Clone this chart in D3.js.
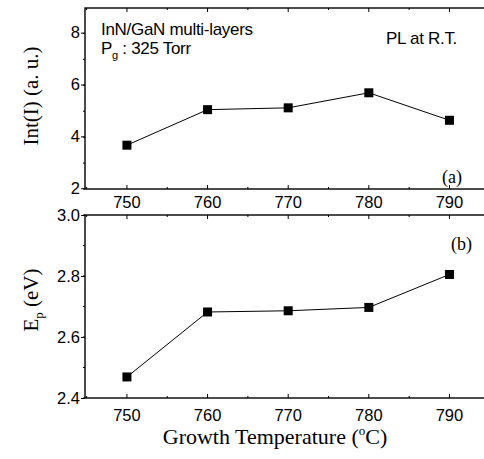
<!DOCTYPE html>
<html><head><meta charset="utf-8">
<script src="https://cdn.jsdelivr.net/npm/d3@7"></script>
<style>body{margin:0;background:#fff}svg{display:block}</style>
</head><body>
<svg id="c" width="484" height="459"></svg>
<script>
const temps = [750, 760, 770, 780, 790];
const intensity = [3.66, 5.03, 5.1, 5.68, 4.62];
const peakEnergy = [2.469, 2.682, 2.686, 2.697, 2.805];
const xTicks = [750, 760, 770, 780, 790];
const yTicksA = [2, 4, 6, 8];
const yTicksB = [2.4, 2.6, 2.8, 3.0];

const svg = d3.select("#c");
const sans = "Liberation Sans, Arial, sans-serif";
const serif = "Liberation Serif, Times New Roman, serif";
const L = 85, R = 500;
const x = d3.scaleLinear().domain([744.8, 795.4]).range([L, 493]);

function panel(yDom, yRange, ticks, fmt, data, minorStep, labOff) {
  const y = d3.scaleLinear().domain(yDom).range(yRange);
  const g = svg.append("g");
  g.append("rect").attr("x", L).attr("y", yRange[1]).attr("width", R - L)
    .attr("height", yRange[0] - yRange[1]).attr("fill", "none").attr("stroke", "#000").attr("stroke-width", 1.4);
  const ya = d3.axisLeft(y).tickValues(ticks).tickFormat(fmt).tickSize(4).tickPadding(1);
  const ag = g.append("g").attr("transform", `translate(${L},0)`).call(ya);
  ag.select(".domain").remove();
  ag.selectAll("text").attr("font-family", sans).attr("font-size", 16.5).attr("fill", "#000");
  const minors = d3.range(yDom[0], yDom[1] + 1e-9, minorStep);
  g.selectAll(".my").data(minors).join("line")
    .attr("x1", L - 2).attr("x2", L).attr("y1", d => y(d)).attr("y2", d => y(d)).attr("stroke", "#000");
  const minorX = d3.range(745, 796, 5);
  [yRange[0], yRange[1]].forEach((yy, i) => {
    g.selectAll(null).data(minorX).join("line")
      .attr("x1", d => x(d)).attr("x2", d => x(d))
      .attr("y1", yy).attr("y2", d => yy + (i === 0 ? -1 : 1) * (d % 10 === 0 ? 4 : 2))
      .attr("stroke", "#000");
  });
  g.selectAll(null).data(xTicks).join("text")
    .attr("x", d => x(d)).attr("y", yRange[0] + labOff).attr("text-anchor", "middle")
    .attr("font-family", sans).attr("font-size", 16.5).text(d => d);
  const pts = temps.map((t, i) => [t, data[i]]);
  g.append("path").datum(pts)
    .attr("d", d3.line().x(d => x(d[0])).y(d => y(d[1])))
    .attr("fill", "none").attr("stroke", "#000").attr("stroke-width", 1);
  g.selectAll(null).data(pts).join("rect")
    .attr("x", d => x(d[0]) - 4.5).attr("y", d => y(d[1]) - 4.5)
    .attr("width", 9).attr("height", 9).attr("fill", "#000");
  return y;
}

panel([1.97, 8.95], [189, 8], yTicksA, d3.format("d"), intensity, 1, 19);
panel([2.4, 3.0], [398, 215], yTicksB, d3.format(".1f"), peakEnergy, 0.1, 23);

svg.append("text").attr("transform", "translate(38,96) rotate(-90)").attr("text-anchor", "middle")
  .attr("font-family", serif).attr("font-size", 21).text("Int(I) (a. u.)");
const eb = svg.append("text").attr("transform", "translate(38,300) rotate(-90)").attr("text-anchor", "middle")
  .attr("font-family", serif).attr("font-size", 21);
eb.append("tspan").text("E");
eb.append("tspan").attr("font-size", 13).attr("dy", 5).text("p");
eb.append("tspan").attr("dy", -5).text(" (eV)");
const xt = svg.append("text").attr("x", 275).attr("y", 444).attr("text-anchor", "middle")
  .attr("font-family", serif).attr("font-size", 22);
xt.append("tspan").text("Growth Temperature (");
xt.append("tspan").attr("font-size", 13).attr("dy", -9).text("o");
xt.append("tspan").attr("dy", 9).text("C)");

svg.append("text").attr("x", 101).attr("y", 35).attr("font-family", sans).attr("font-size", 17).attr("letter-spacing", -0.3).text("InN/GaN multi-layers");
const pg = svg.append("text").attr("x", 101).attr("y", 54).attr("font-family", sans).attr("font-size", 17).attr("letter-spacing", -0.3);
pg.append("tspan").text("P");
pg.append("tspan").attr("font-size", 11).attr("dy", 5).text("g");
pg.append("tspan").attr("dy", -5).text(" : 325 Torr");
svg.append("text").attr("x", 386).attr("y", 44).attr("font-family", sans).attr("font-size", 17).attr("letter-spacing", -0.3).text("PL at R.T.");
svg.append("text").attr("x", 442).attr("y", 183).attr("font-family", serif).attr("font-size", 18).text("(a)");
svg.append("text").attr("x", 451).attr("y", 250).attr("font-family", serif).attr("font-size", 18).text("(b)");
</script>
</body></html>
